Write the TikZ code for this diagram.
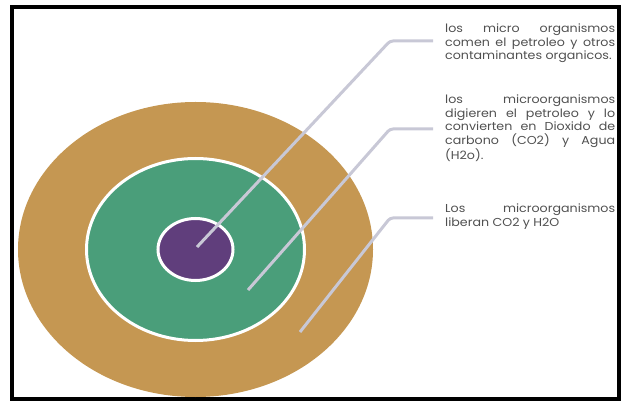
\documentclass[tikz,border=0pt]{standalone}
\usepackage{fontspec}
\newfontfamily\notefont[FakeStretch=1.1]{Poppins}
\usetikzlibrary{shapes.geometric}

\definecolor{soil}{RGB}{197,151,82}
\definecolor{leaf}{RGB}{74,158,122}
\definecolor{core}{RGB}{96,62,124}
\definecolor{leadergray}{RGB}{200,200,214}
\definecolor{notegray}{RGB}{80,80,80}

\begin{document}
\begin{tikzpicture}[x=1pt,y=-1pt,
    ring/.style={ellipse,inner sep=0pt},
    leader/.style={draw=leadergray,line width=3pt,rounded corners=3pt,shorten >=12pt},
    note/.style={anchor=base west,inner sep=0pt,text width=170pt,align=justify,
      font=\notefont\fontsize{11.5}{13.5}\selectfont,text=notegray}]
    \useasboundingbox (0,0) rectangle (621,403);
    \draw[line width=4pt] (12,7) rectangle (619,399);

    \node[ring,fill=soil,minimum width=355,minimum height=295] (soilRing) at (195.5,249.5) {};
    \node[ring,draw=white,line width=3pt,fill=leaf,minimum width=218,minimum height=182]
      (leafRing) at (195.5,249.5) {};
    \node[ring,draw=white,line width=3pt,fill=core,minimum width=75,minimum height=62]
      (coreRing) at (195.5,249.5) {};

    \node[note] (coreNote) at (445,33)
      {los micro organismos\linebreak comen el petroleo y otros\linebreak contaminantes organicos.};
    \node[note] (leafNote) at (445,104)
      {los microorganismos\linebreak digieren el petroleo y lo\linebreak convierten en Dioxido de\linebreak
       carbono (CO2) y Agua\linebreak (H2o).};
    \node[note] (soilNote) at (445,213)
      {Los microorganismos\linebreak liberan CO2 y H2O};

    \coordinate (coreDot) at (197,247);
    \coordinate (coreBend) at (390,41);
    \coordinate (leafDot) at (248,290);
    \coordinate (leafBend) at (390,129);
    \coordinate (soilDot) at (300,332);
    \coordinate (soilBend) at (390,218);

    \draw[leader] (coreDot) -- (coreBend) -- (coreBend -| coreNote.west);
    \draw[leader] (leafDot) -- (leafBend) -- (leafBend -| leafNote.west);
    \draw[leader] (soilDot) -- (soilBend) -- (soilBend -| soilNote.west);
  \end{tikzpicture}
\end{document}
